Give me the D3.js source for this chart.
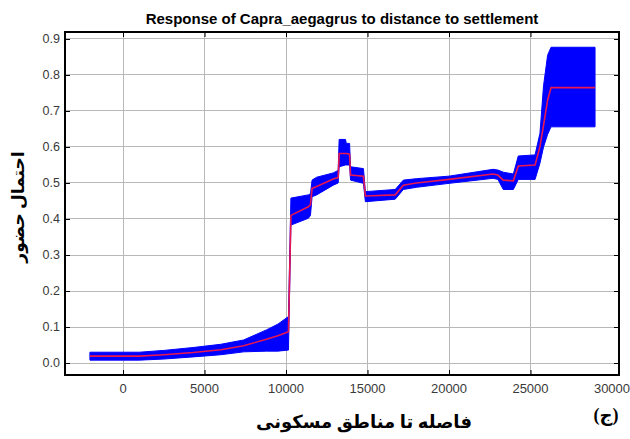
<!DOCTYPE html>
<html><head><meta charset="utf-8">
<script src="https://cdn.jsdelivr.net/npm/d3@7"></script>
<style>html,body{margin:0;padding:0;background:#fff;}svg{display:block;}</style>
</head><body>
<script>
// ---- data ----
const distance = [-2030, 1000, 2500, 4300, 6000, 7400, 8800, 9500, 10150, 10300, 11370, 11500, 11600, 11880, 12900, 13200, 13260, 13650, 13700, 13900, 13960, 14750, 14870, 16700, 17200, 18000, 20000, 22700, 23000, 23330, 23950, 24250, 25280, 25580, 25800, 26050, 26260, 28960];
const lower    = [0.008, 0.008, 0.011, 0.017, 0.023, 0.031, 0.033, 0.033, 0.036, 0.383, 0.402, 0.41, 0.462, 0.467, 0.494, 0.50, 0.545, 0.55, 0.55, 0.55, 0.508, 0.499, 0.448, 0.455, 0.482, 0.488, 0.499, 0.513, 0.51, 0.482, 0.482, 0.51, 0.51, 0.555, 0.60, 0.635, 0.656, 0.656];
const response = [0.019, 0.019, 0.023, 0.029, 0.037, 0.048, 0.066, 0.076, 0.087, 0.41, 0.434, 0.44, 0.485, 0.49, 0.511, 0.515, 0.582, 0.582, 0.582, 0.58, 0.522, 0.519, 0.464, 0.467, 0.494, 0.50, 0.51, 0.525, 0.522, 0.508, 0.506, 0.547, 0.55, 0.601, 0.66, 0.73, 0.765, 0.765];
const upper    = [0.030, 0.030, 0.035, 0.043, 0.052, 0.064, 0.092, 0.108, 0.129, 0.458, 0.467, 0.47, 0.508, 0.516, 0.528, 0.535, 0.621, 0.621, 0.61, 0.61, 0.545, 0.54, 0.476, 0.482, 0.508, 0.512, 0.519, 0.538, 0.536, 0.53, 0.525, 0.575, 0.578, 0.638, 0.77, 0.855, 0.877, 0.877];
const xTicks = [0, 5000, 10000, 15000, 20000, 25000, 30000];
const xGridTicks = [0, 5000, 10000, 15000, 20000, 25000];
const yTicks = [0.0, 0.1, 0.2, 0.3, 0.4, 0.5, 0.6, 0.7, 0.8, 0.9];
const title = "Response of Capra_aegagrus to distance to settlement";
const yTitle = "احتمال حضور";
const xTitle = "فاصله تا مناطق مسکونی";
const panelTag = "(ج)";

// ---- layout ----
const W = 630, H = 439;
const L = 65, R = 619, T = 32, B = 375;
const svg = d3.select("body").append("svg").attr("width", W).attr("height", H);
const x = d3.scaleLinear().domain([-3560, 30430]).range([L, R]);
const y = d3.scaleLinear().domain([-0.0333, 0.9194]).range([B, T]);

// grid
svg.append("g").selectAll("line").data(xGridTicks).join("line")
  .attr("x1", d => x(d)).attr("x2", d => x(d)).attr("y1", T).attr("y2", B)
  .attr("stroke", "#b8b8b8").attr("stroke-width", 1).attr("shape-rendering", "crispEdges");
svg.append("g").selectAll("line").data(yTicks).join("line")
  .attr("x1", L).attr("x2", R).attr("y1", d => y(d)).attr("y2", d => y(d))
  .attr("stroke", "#b8b8b8").attr("stroke-width", 1).attr("shape-rendering", "crispEdges");

// band
const pts = distance.map((d, i) => ({x: d, lo: lower[i], m: response[i], hi: upper[i]}));
svg.append("path").datum(pts)
  .attr("d", d3.area().x(d => x(d.x)).y0(d => y(d.lo)).y1(d => y(d.hi)))
  .attr("fill", "#0000ff").attr("stroke", "#0000ff").attr("stroke-width", 1);
svg.append("path").datum(pts)
  .attr("d", d3.line().x(d => x(d.x)).y(d => y(d.m)))
  .attr("fill", "none").attr("stroke", "#e8174f").attr("stroke-width", 1.6);

// frame
svg.append("rect").attr("x", L).attr("y", T).attr("width", R - L).attr("height", B - T)
  .attr("fill", "none").attr("stroke", "#000").attr("stroke-width", 1.2).attr("shape-rendering", "crispEdges");

// inward ticks via axes
const tickStyle = g => { g.select(".domain").remove(); g.selectAll("text").remove(); g.selectAll("line").attr("stroke", "#000"); };
svg.append("g").attr("transform", `translate(0,${B})`).call(d3.axisTop(x).tickValues(xGridTicks).tickSize(5)).call(tickStyle);
svg.append("g").attr("transform", `translate(0,${T})`).call(d3.axisBottom(x).tickValues(xGridTicks).tickSize(5)).call(tickStyle);
svg.append("g").attr("transform", `translate(${L},0)`).call(d3.axisRight(y).tickValues(yTicks).tickSize(5)).call(tickStyle);
svg.append("g").attr("transform", `translate(${R},0)`).call(d3.axisLeft(y).tickValues(yTicks).tickSize(5)).call(tickStyle);

// tick labels
const lblFont = "'Liberation Sans', Arial, sans-serif";
svg.append("g").selectAll("text").data(yTicks).join("text")
  .attr("x", L - 5).attr("y", d => y(d)).attr("dy", "0.35em").attr("text-anchor", "end")
  .attr("font-family", lblFont).attr("font-size", 12.5).attr("fill", "#3a3a3a")
  .text(d => d3.format(".1f")(d));
svg.append("g").selectAll("text").data(xTicks).join("text")
  .attr("x", d => x(d)).attr("y", 393).attr("text-anchor", "middle")
  .attr("font-family", lblFont).attr("font-size", 13).attr("fill", "#3a3a3a")
  .text(d => d3.format("d")(d));

// titles
svg.append("text").attr("x", 342).attr("y", 24).attr("text-anchor", "middle")
  .attr("font-family", lblFont).attr("font-weight", "bold").attr("font-size", 15).attr("fill", "#000")
  .text(title);
const arFont = "'Times New Roman', 'DejaVu Sans', serif";
svg.append("text").attr("transform", "translate(24,207) rotate(-90)").attr("text-anchor", "middle")
  .attr("font-family", arFont).attr("font-weight", "bold").attr("font-size", 17).attr("fill", "#000")
  .attr("direction", "rtl").text(yTitle);
svg.append("text").attr("x", 364).attr("y", 428).attr("text-anchor", "middle")
  .attr("font-family", arFont).attr("font-weight", "bold").attr("font-size", 18).attr("fill", "#000")
  .attr("direction", "rtl").text(xTitle);
svg.append("text").attr("x", 606).attr("y", 421).attr("text-anchor", "middle")
  .attr("font-family", arFont).attr("font-weight", "bold").attr("font-size", 18).attr("fill", "#000")
  .attr("direction", "rtl").text(panelTag);
</script>
</body></html>
